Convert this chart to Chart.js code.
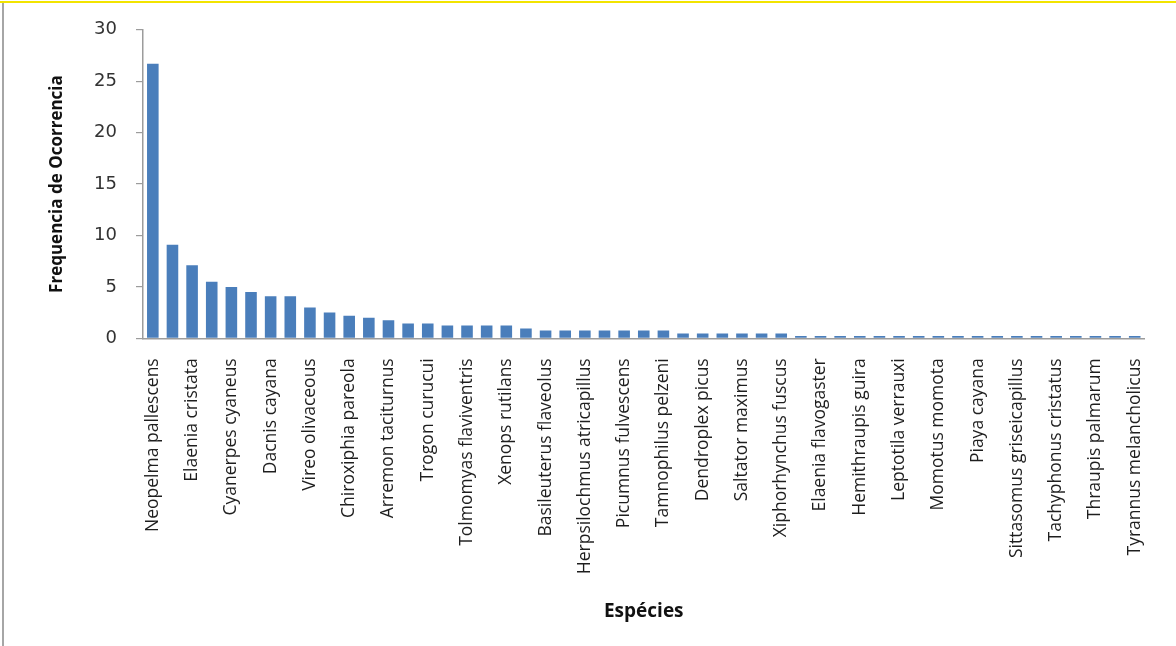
<!DOCTYPE html>
<html>
<head>
<meta charset="utf-8">
<title>Frequencia de Ocorrencia</title>
<script src="https://cdn.jsdelivr.net/npm/chart.js@4/dist/chart.umd.min.js"></script>
<style>
  html, body { margin: 0; padding: 0; background: #ffffff; }
  #wrap { position: relative; width: 1176px; height: 646px; overflow: hidden; background: #ffffff; }
  #edgeTop { position: absolute; left: 0; top: 1px; width: 1176px; height: 2px; background: #f2e400; }
  #edgeLeft { position: absolute; left: 2px; top: 3px; width: 2px; height: 643px; background: #a6a6a6; }
  canvas { position: absolute; left: 0; top: 0; }
</style>
</head>
<body>
<div id="wrap">
  <canvas id="chart" width="1176" height="646"></canvas>
  <div id="edgeTop"></div>
  <div id="edgeLeft"></div>
</div>
<script>
// Species in rank order; only every other name is printed on the axis
const species = [
  'Neopelma pallescens', '',
  'Elaenia cristata', '',
  'Cyanerpes cyaneus', '',
  'Dacnis cayana', '',
  'Vireo olivaceous', '',
  'Chiroxiphia pareola', '',
  'Arremon taciturnus', '',
  'Trogon curucui', '',
  'Tolmomyas flaviventris', '',
  'Xenops rutilans', '',
  'Basileuterus flaveolus', '',
  'Herpsilochmus atricapillus', '',
  'Picumnus fulvescens', '',
  'Tamnophilus pelzeni', '',
  'Dendroplex picus', '',
  'Saltator maximus', '',
  'Xiphorhynchus fuscus', '',
  'Elaenia flavogaster', '',
  'Hemithraupis guira', '',
  'Leptotila verrauxi', '',
  'Momotus momota', '',
  'Piaya cayana', '',
  'Sittasomus griseicapillus', '',
  'Tachyphonus cristatus', '',
  'Thraupis palmarum', '',
  'Tyrannus melancholicus'
];

// Frequency of occurrence for each species
const frequencia = [
  26.7, 9.1, 7.1, 5.5, 5.0, 4.5, 4.1, 4.1, 3.0, 2.5,
  2.2, 2.0, 1.75, 1.45, 1.45, 1.25, 1.25, 1.25, 1.25, 0.95,
  0.75, 0.75, 0.75, 0.75, 0.75, 0.75, 0.75,
  0.47, 0.47, 0.47, 0.47, 0.47, 0.47,
  0.22, 0.22, 0.22, 0.22, 0.22, 0.22, 0.22, 0.22, 0.22,
  0.22, 0.22, 0.22, 0.22, 0.22, 0.22, 0.22, 0.22, 0.22
];

// Value axis ticks
const yTicks = [0, 5, 10, 15, 20, 25, 30];

const PAD = { left: 47, top: 29, right: 29, bottom: 22.6 };
const CANVAS_H = 646;
const PLOT_LEFT = 143;
const PLOT_BOTTOM = 338.3;

new Chart(document.getElementById('chart'), {
  type: 'bar',
  data: {
    labels: species,
    datasets: [{
      label: 'Frequencia de Ocorrencia',
      data: frequencia,
      backgroundColor: '#4a7ebb',
      borderWidth: 0,
      categoryPercentage: 1.0,
      barPercentage: 0.59
    }]
  },
  options: {
    responsive: false,
    animation: false,
    devicePixelRatio: 1,
    layout: { padding: PAD },
    plugins: {
      legend: { display: false },
      tooltip: { enabled: false }
    },
    scales: {
      x: {
        offset: true,
        grid: { display: false, drawTicks: false, drawOnChartArea: false },
        border: { display: true, color: '#9c9c9c', width: 1.5 },
        ticks: {
          autoSkip: false,
          maxRotation: 90,
          minRotation: 90,
          padding: 20,
          color: '#1e1e1e',
          font: { family: 'Open Sans', size: 17.5 }
        },
        title: {
          display: true,
          text: 'Espécies',
          color: '#111111',
          padding: { top: 0, bottom: 0 },
          font: { family: 'Open Sans', size: 19, weight: 'bold' }
        },
        afterFit(scale) { scale.height = CANVAS_H - PAD.bottom - PLOT_BOTTOM; }
      },
      y: {
        min: 0,
        max: 30,
        afterBuildTicks(scale) { scale.ticks = yTicks.map(v => ({ value: v })); },
        grid: { display: true, drawOnChartArea: false, drawTicks: true, tickLength: 7, color: '#9c9c9c', lineWidth: 1.2 },
        border: { display: true, color: '#9c9c9c', width: 1.5 },
        ticks: {
          padding: 19,
          color: '#333333',
          font: { family: 'DejaVu Sans', size: 18 }
        },
        title: {
          display: true,
          text: 'Frequencia de Ocorrencia',
          color: '#111111',
          padding: { top: 0, bottom: 0 },
          font: { family: 'Open Sans', size: 17, weight: 'bold' }
        },
        afterFit(scale) { scale.width = PLOT_LEFT - PAD.left; }
      }
    }
  }
});
</script>
</body>
</html>
